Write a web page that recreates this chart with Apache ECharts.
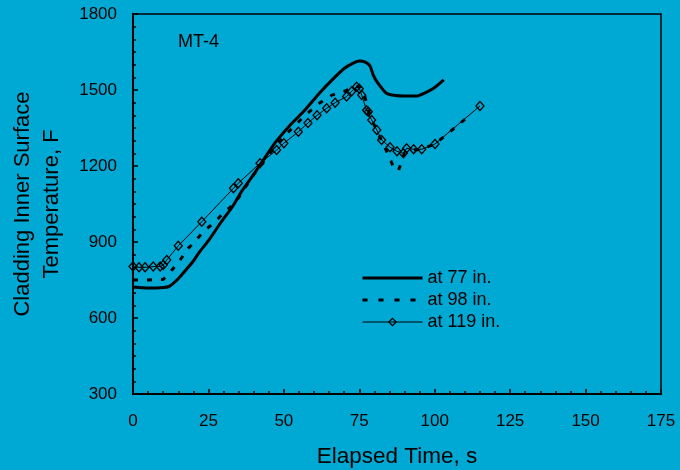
<!DOCTYPE html>
<html>
<head>
<meta charset="utf-8">
<script src="https://cdn.jsdelivr.net/npm/echarts@6/dist/echarts.min.js"></script>
<style>
html,body{margin:0;padding:0;background:#00A9D4;}
#c{width:680px;height:470px;}
</style>
</head>
<body>
<div id="c"></div>
<script>
const xTicks = [0, 25, 50, 75, 100, 125, 150, 175];
const yTicks = [300, 600, 900, 1200, 1500, 1800];

const t77 = [0, 5, 10, 12, 15, 18, 20, 22, 25, 29, 33, 36, 39, 43, 47, 52, 57, 62, 66, 70, 73, 75, 77, 78.6, 79.6, 81, 84, 87, 90, 94, 97, 100, 103];
const v77 = [722, 718, 720, 725, 755, 796, 825, 860, 905, 975, 1040, 1100, 1150, 1220, 1290, 1360, 1421, 1490, 1540, 1585, 1606, 1614, 1610, 1594, 1560, 1530, 1487, 1478, 1476, 1476, 1490, 1510, 1540];

const t98 = [0, 5, 10, 12, 15.6, 18.3, 20.5, 23.3, 27.2, 30, 33.8, 38.8, 43, 47, 52, 57, 62, 66, 70, 73, 75, 76.5, 78, 80, 82, 84, 85.5, 86.5, 88, 88.8, 90, 92, 95.7, 100, 104.5, 108.4, 112.3];
const v98 = [750, 750, 752, 776, 829, 875, 901, 941, 980, 1015, 1053, 1145, 1215, 1275, 1340, 1400, 1450, 1480, 1495, 1510, 1515, 1490, 1420, 1360, 1310, 1260, 1220, 1190, 1182, 1210, 1252, 1262, 1266, 1287, 1329, 1369, 1405];

const t119 = [0, 2, 4, 6.7, 9, 10, 11.2, 15, 22.8, 33.3, 34.9, 42.1, 47.6, 50, 54.8, 58, 61, 64.2, 67, 70.8, 72.5, 74.1, 75, 75.8, 77.4, 78, 79.1, 80.8, 82.4, 85.2, 87.5, 89.6, 90.7, 93, 95.7, 100.1, 115];
const v119 = [803, 800, 800, 803, 803, 809, 829, 885, 980, 1112, 1132, 1211, 1263, 1290, 1335, 1370, 1400, 1428, 1450, 1474, 1495, 1513, 1505, 1480, 1420, 1414, 1382, 1342, 1303, 1274, 1258, 1250, 1270, 1266, 1266, 1287, 1437];

const names = ['at 77 in.', 'at 98 in.', 'at 119 in.'];

function pairs(t, v) { return t.map((x, i) => [x, v[i]]); }

const chart = echarts.init(document.getElementById('c'), null, {renderer: 'canvas'});
const font = '"Liberation Sans", Arial, sans-serif';
const hidden = {color: 'rgba(0,0,0,0)', borderColor: 'rgba(0,0,0,0)', borderWidth: 0};
chart.setOption({
  backgroundColor: '#00A9D4',
  animation: false,
  textStyle: {fontFamily: font, color: '#000'},
  grid: {left: 133, right: 19, top: 14, bottom: 76, show: true, borderColor: '#000', borderWidth: 1.5,
         backgroundColor: 'transparent', outerBoundsMode: 'none', containLabel: false},
  graphic: [{
    type: 'text', left: 178, top: 33,
    style: {text: 'MT-4', font: '18px ' + font, fill: '#000'}
  }],
  legend: {
    orient: 'vertical', left: 361, top: 269, padding: 0,
    itemWidth: 60, itemHeight: 9, itemGap: 4,
    textStyle: {fontSize: 18, color: '#000', fontFamily: font},
    data: [
      {name: names[0], itemStyle: hidden, lineStyle: {width: 3, color: '#000'}},
      {name: names[1], itemStyle: hidden, lineStyle: {width: 3, color: '#000', type: [5, 11]}},
      {name: names[2], itemStyle: {color: 'rgba(0,0,0,0)', borderColor: '#000', borderWidth: 1.3}, lineStyle: {width: 1, color: '#000'}}
    ]
  },
  xAxis: {
    type: 'value', min: 0, max: 175, interval: 25,
    name: 'Elapsed Time, s', nameLocation: 'middle', nameGap: 51,
    nameTextStyle: {fontSize: 22.5, color: '#000'},
    axisLine: {lineStyle: {color: '#000', width: 2}},
    axisTick: {inside: true, length: 5, lineStyle: {color: '#000', width: 1.5}},
    minorTick: {show: true, splitNumber: 5, length: 3, lineStyle: {color: '#000', width: 1.5}},
    splitLine: {show: false},
    axisLabel: {fontSize: 17, color: '#000', margin: 19, formatter: v => xTicks.includes(v) ? String(v) : ''}
  },
  yAxis: {
    type: 'value', min: 300, max: 1800, interval: 300,
    name: 'Cladding Inner Surface\nTemperature, F', nameLocation: 'middle', nameGap: 67, nameRotate: 90,
    nameTextStyle: {fontSize: 22, color: '#000', lineHeight: 29},
    axisLine: {lineStyle: {color: '#000', width: 2}},
    axisTick: {inside: true, length: 5, lineStyle: {color: '#000', width: 1.5}},
    minorTick: {show: true, splitNumber: 6, length: 3, lineStyle: {color: '#000', width: 1.5}},
    splitLine: {show: false},
    axisLabel: {fontSize: 17, color: '#000', margin: 16, formatter: v => yTicks.includes(v) ? String(v) : ''}
  },
  series: [
    {
      name: names[0], type: 'line', data: pairs(t77, v77), symbol: 'none', smooth: 0.2,
      lineStyle: {color: '#000', width: 3}, itemStyle: {color: '#000'}
    },
    {
      name: names[1], type: 'line', data: pairs(t98, v98), symbol: 'none',
      lineStyle: {color: '#000', width: 3, type: [5, 9]}, itemStyle: {color: '#000'}
    },
    {
      name: names[2], type: 'line', data: pairs(t119, v119), symbol: 'diamond', symbolSize: [8, 9],
      lineStyle: {color: '#000', width: 1}, itemStyle: {color: 'rgba(0,0,0,0)', borderColor: '#000', borderWidth: 1.3}
    }
  ]
});
</script>
</body>
</html>
